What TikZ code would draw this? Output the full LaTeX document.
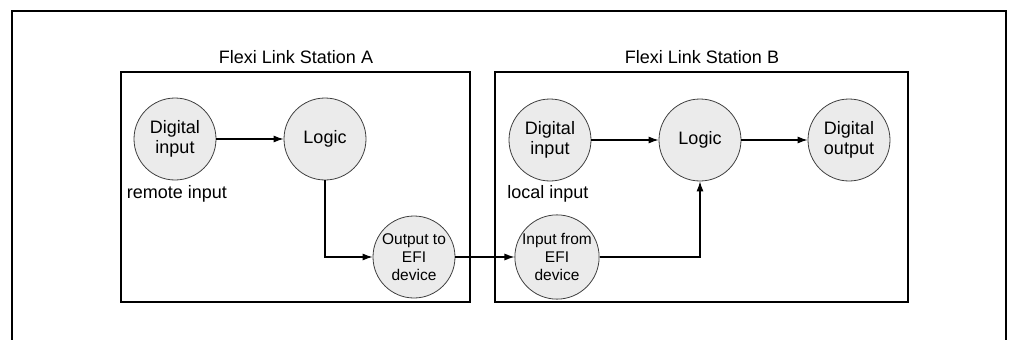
\documentclass[tikz,border=0pt]{standalone}
\usepackage{fontspec}
\setmainfont{Liberation Sans}
\usetikzlibrary{arrows.meta}

\begin{document}
\begin{tikzpicture}[x=1pt,y=-1pt,
  blob/.style={circle,draw=black!75,fill=black!8,line width=0.8pt,minimum size=82pt,inner sep=0pt,align=center,font=\fontsize{18}{20}\selectfont},
  small/.style={font=\fontsize{15.5}{18}\selectfont},
  lbl/.style={font=\fontsize{18}{20}\selectfont},
  conn/.style={-{Latex[length=10pt,width=7pt]},line width=1.1pt}]
\useasboundingbox (0,0) rectangle (1013,340);
% frame and stations
\draw[line width=2pt] (12,340) -- (12,11) -- (1006,11) -- (1006,340);
\draw[line width=1.2pt] (121,72) rectangle (470,302);
\draw[line width=1.2pt] (495,72) rectangle (908,302);
\node[lbl] (titleA) at (296,57) {Flexi Link Station A};
\node[lbl] (titleB) at (702,57) {Flexi Link Station B};
% station A
\node[blob] (dinA) at (175,139) {Digital\\input};
\node[blob] (logicA) at (325,139) {Logic};
\node[blob,small] (outA) at (414,257) {Output to\\EFI\\device};
\node[lbl] (remote) at (177,194) {remote input};
% station B
\node[blob] (dinB) at (550,140) {Digital\\input};
\node[blob] (logicB) at (700,140) {Logic};
\node[blob] (dout) at (849,140) {Digital\\output};
\node[blob,small] (inB) at (557,257) {Input from\\EFI\\device};
\node[lbl] (local) at (548,194) {local input};
% connections
\draw[conn] (dinA) -- (logicA);
\draw[conn] (logicA) |- (outA);
\draw[conn] (outA) -- (inB);
\draw[conn] (dinB) -- (logicB);
\draw[conn] (logicB) -- (dout);
\draw[conn] (inB) -| (logicB);
\end{tikzpicture}
\end{document}
